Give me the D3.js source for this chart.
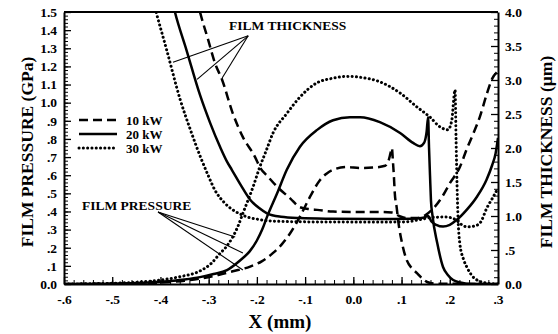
<!DOCTYPE html>
<html>
<head>
<meta charset="utf-8">
<script src="https://cdn.jsdelivr.net/npm/d3@7/dist/d3.min.js"></script>
<style>
  body { margin: 0; background: #fff; }
  text { font-family: "Liberation Serif", "Times New Roman", serif; font-weight: bold; fill: #000; }
</style>
</head>
<body>
<svg id="chart" width="558" height="334"></svg>
<script>
// ---- axis ticks and labels ----
const xTicks = [-0.6, -0.5, -0.4, -0.3, -0.2, -0.1, 0.0, 0.1, 0.2, 0.3];
const xTickLabels = ["-.6", "-.5", "-.4", "-.3", "-.2", "-.1", "0.0", ".1", ".2", ".3"];
const pTicks = [0, 0.1, 0.2, 0.3, 0.4, 0.5, 0.6, 0.7, 0.8, 0.9, 1.0, 1.1, 1.2, 1.3, 1.4, 1.5];
const pTickLabels = ["0.0", ".1", ".2", ".3", ".4", ".5", ".6", ".7", ".8", ".9", "1.0", "1.1", "1.2", "1.3", "1.4", "1.5"];
const hTicks = [0, 0.5, 1.0, 1.5, 2.0, 2.5, 3.0, 3.5, 4.0];
const hTickLabels = ["0.0", ".5", "1.0", "1.5", "2.0", "2.5", "3.0", "3.5", "4.0"];

const seriesNames = ["10 kW", "20 kW", "30 kW"];

// ---- film pressure (GPa) vs X (mm) ----
const pressure10 = [[-0.6,0],[-0.5,0.002],[-0.4,0.008],[-0.35,0.018],[-0.318,0.03],[-0.28,0.05],[-0.25,0.07],[-0.214,0.096],[-0.19,0.125],[-0.167,0.17],[-0.148,0.22],[-0.131,0.28],[-0.111,0.37],[-0.09,0.48],[-0.069,0.574],[-0.055,0.61],[-0.042,0.63],[-0.013,0.645],[0.014,0.64],[0.04,0.642],[0.066,0.652],[0.073,0.68],[0.077,0.72],[0.08,0.75],[0.082,0.68],[0.084,0.6],[0.086,0.5],[0.09,0.42],[0.093,0.35],[0.101,0.226],[0.111,0.13],[0.122,0.085],[0.132,0.06],[0.143,0.03],[0.153,0.011],[0.17,0.002],[0.3,0]];
const pressure20 = [[-0.6,0],[-0.5,0.002],[-0.45,0.005],[-0.4,0.012],[-0.35,0.025],[-0.318,0.038],[-0.29,0.055],[-0.262,0.077],[-0.235,0.13],[-0.215,0.18],[-0.2,0.24],[-0.189,0.3],[-0.179,0.37],[-0.158,0.5],[-0.138,0.63],[-0.111,0.756],[-0.075,0.85],[-0.042,0.903],[-0.007,0.92],[0.014,0.92],[0.055,0.893],[0.097,0.833],[0.124,0.778],[0.138,0.76],[0.147,0.78],[0.152,0.84],[0.155,0.92],[0.157,0.75],[0.159,0.6],[0.161,0.46],[0.164,0.38],[0.174,0.226],[0.186,0.094],[0.196,0.05],[0.207,0.022],[0.222,0.008],[0.236,0.002],[0.3,0]];
const pressure30 = [[-0.6,0],[-0.5,0.004],[-0.45,0.01],[-0.4,0.022],[-0.36,0.04],[-0.318,0.072],[-0.296,0.11],[-0.276,0.17],[-0.262,0.21],[-0.25,0.26],[-0.239,0.32],[-0.229,0.39],[-0.208,0.535],[-0.194,0.645],[-0.18,0.74],[-0.167,0.83],[-0.138,0.94],[-0.111,1.03],[-0.075,1.11],[-0.042,1.135],[-0.013,1.145],[0.014,1.14],[0.055,1.115],[0.097,1.053],[0.132,0.976],[0.159,0.92],[0.18,0.866],[0.196,0.85],[0.204,0.9],[0.211,1.07],[0.213,0.8],[0.215,0.55],[0.217,0.37],[0.221,0.22],[0.228,0.14],[0.236,0.09],[0.248,0.04],[0.262,0.015],[0.277,0.005],[0.3,0]];

// ---- film thickness (µm) vs X (mm) ----
const thickness10 = [[-0.325,4.2],[-0.318,4.0],[-0.301,3.59],[-0.287,3.25],[-0.272,3.0],[-0.25,2.51],[-0.229,2.16],[-0.204,1.87],[-0.194,1.72],[-0.176,1.57],[-0.158,1.43],[-0.131,1.26],[-0.111,1.13],[-0.09,1.1],[-0.075,1.09],[-0.042,1.065],[0.0,1.06],[0.06,1.06],[0.08,1.05],[0.095,1.0],[0.11,0.97],[0.13,0.97],[0.149,1.01],[0.163,1.09],[0.184,1.28],[0.2,1.48],[0.221,1.72],[0.235,1.98],[0.248,2.2],[0.262,2.45],[0.277,2.8],[0.288,3.02],[0.3,3.13]];
const thickness20 = [[-0.38,4.3],[-0.37,4.0],[-0.346,3.44],[-0.318,2.78],[-0.297,2.37],[-0.276,2.01],[-0.262,1.8],[-0.252,1.68],[-0.233,1.45],[-0.214,1.24],[-0.196,1.12],[-0.179,1.04],[-0.15,0.99],[-0.111,0.97],[-0.05,0.96],[0.05,0.955],[0.12,0.96],[0.145,0.975],[0.155,1.0],[0.162,0.92],[0.172,0.87],[0.186,0.845],[0.2,0.87],[0.214,0.94],[0.235,1.09],[0.256,1.28],[0.276,1.53],[0.288,1.75],[0.295,1.92],[0.3,2.15]];
const thickness30 = [[-0.42,4.3],[-0.409,4.0],[-0.387,3.44],[-0.359,2.71],[-0.337,2.25],[-0.316,1.85],[-0.3,1.58],[-0.287,1.38],[-0.268,1.2],[-0.25,1.09],[-0.235,1.03],[-0.22,0.985],[-0.2,0.955],[-0.183,0.935],[-0.15,0.92],[-0.111,0.915],[0.0,0.91],[0.08,0.91],[0.11,0.915],[0.14,0.95],[0.165,0.98],[0.19,0.985],[0.205,0.97],[0.215,0.93],[0.225,0.87],[0.236,0.84],[0.25,0.85],[0.263,0.9],[0.277,1.12],[0.29,1.28],[0.3,1.41]];

// ---- callout anchors (x in mm; pressure in GPa, thickness in µm) ----
const thicknessCallout = { label: "FILM THICKNESS", apex: [-0.218, 3.65], ends: [[-0.374, 3.26], [-0.324, 3.01], [-0.272, 3.03]] };
const pressureCallout = { label: "FILM PRESSURE", apex: [-0.405, 0.397], ends: [[-0.245, 0.259], [-0.229, 0.171], [-0.229, 0.077]] };

// ---- layout ----
const plot = { left: 64, right: 498, top: 12, bottom: 284 };

const svg = d3.select("#chart");
const x = d3.scaleLinear().domain([-0.6, 0.3]).range([plot.left, plot.right]);
const yP = d3.scaleLinear().domain([0, 1.5]).range([plot.bottom, plot.top]);
const yH = d3.scaleLinear().domain([0, 4.0]).range([plot.bottom, plot.top]);

const styles = {
  "10 kW": { dash: "9 5", width: 2.5, cap: "butt" },
  "20 kW": { dash: null, width: 2.5, cap: "butt" },
  "30 kW": { dash: "0.1 4.2", width: 3, cap: "round" }
};

svg.append("defs").append("clipPath").attr("id", "plotClip")
  .append("rect")
  .attr("x", plot.left).attr("y", plot.top)
  .attr("width", plot.right - plot.left).attr("height", plot.bottom - plot.top);

// ---- minor ticks ----
const range = (a, b, s) => d3.range(Math.round((b - a) / s) + 1).map(i => +(a + i * s).toFixed(4));
const minorGroups = [
  { axis: d3.axisBottom(x).tickValues(range(-0.6, 0.3, 0.02)), t: `translate(0,${plot.bottom})` },
  { axis: d3.axisLeft(yP).tickValues(range(0, 1.5, 0.02)), t: `translate(${plot.left},0)` },
  { axis: d3.axisRight(yH).tickValues(range(0, 4.0, 0.1)), t: `translate(${plot.right},0)` }
];
minorGroups.forEach(m => {
  const g = svg.append("g").attr("transform", m.t)
    .call(m.axis.tickSize(-4).tickSizeOuter(0).tickFormat(""));
  g.select(".domain").remove();
  g.selectAll("line").attr("stroke", "#000").attr("stroke-width", 1);
});

// ---- major axes ----
const gx = svg.append("g").attr("transform", `translate(0,${plot.bottom})`)
  .call(d3.axisBottom(x).tickValues(xTicks).tickSize(-7).tickSizeOuter(0).tickPadding(10)
    .tickFormat((d, i) => xTickLabels[i]));
const gl = svg.append("g").attr("transform", `translate(${plot.left},0)`)
  .call(d3.axisLeft(yP).tickValues(pTicks).tickSize(-7).tickSizeOuter(0).tickPadding(7)
    .tickFormat((d, i) => pTickLabels[i]));
const gr = svg.append("g").attr("transform", `translate(${plot.right},0)`)
  .call(d3.axisRight(yH).tickValues(hTicks).tickSize(-7).tickSizeOuter(0).tickPadding(7)
    .tickFormat((d, i) => hTickLabels[i]));
[gx, gl, gr].forEach(g => {
  g.selectAll(".domain").attr("stroke", "#000").attr("stroke-width", 2);
  g.selectAll("line").attr("stroke", "#000").attr("stroke-width", 1.3);
  g.selectAll("text").attr("font-size", 13.5).attr("font-family", null).attr("fill", "#000");
});

// top frame line
svg.append("line")
  .attr("x1", plot.left).attr("x2", plot.right)
  .attr("y1", plot.top).attr("y2", plot.top)
  .attr("stroke", "#000").attr("stroke-width", 2);

// ---- curves ----
const curves = svg.append("g").attr("clip-path", "url(#plotClip)");
const pLine = d3.line().x(d => x(d[0])).y(d => yP(d[1])).curve(d3.curveMonotoneX);
const hLine = d3.line().x(d => x(d[0])).y(d => yH(d[1])).curve(d3.curveMonotoneX);

const series = [
  { name: "10 kW", p: pressure10, h: thickness10 },
  { name: "20 kW", p: pressure20, h: thickness20 },
  { name: "30 kW", p: pressure30, h: thickness30 }
];
series.forEach(s => {
  const st = styles[s.name];
  [[s.p, pLine], [s.h, hLine]].forEach(([data, gen]) => {
    curves.append("path")
      .attr("d", gen(data))
      .attr("fill", "none")
      .attr("stroke", "#000")
      .attr("stroke-width", st.width)
      .attr("stroke-linecap", st.cap)
      .attr("stroke-dasharray", st.dash);
  });
});

// ---- callouts ----
function callout(c, yScale, textX, textY) {
  const g = svg.append("g");
  c.ends.forEach(e => {
    g.append("line")
      .attr("x1", x(c.apex[0])).attr("y1", yScale(c.apex[1]))
      .attr("x2", x(e[0])).attr("y2", yScale(e[1]))
      .attr("stroke", "#000").attr("stroke-width", 1.1);
  });
  g.append("text").attr("x", textX).attr("y", textY).attr("font-size", 13.5).text(c.label);
}
callout(thicknessCallout, yH, 229, 30);
callout(pressureCallout, yP, 82, 210);

// ---- legend ----
const legend = svg.append("g");
seriesNames.forEach((name, i) => {
  const st = styles[name];
  const yy = 120 + i * 14;
  legend.append("line")
    .attr("x1", 79).attr("x2", 117).attr("y1", yy).attr("y2", yy)
    .attr("stroke", "#000")
    .attr("stroke-width", st.width)
    .attr("stroke-linecap", st.cap)
    .attr("stroke-dasharray", st.dash);
  legend.append("text")
    .attr("x", 126).attr("y", yy).attr("dy", "0.35em")
    .attr("font-size", 13).text(name);
});

// ---- axis titles ----
svg.append("text")
  .attr("transform", `translate(33,${(plot.top + plot.bottom) / 2 + 4}) rotate(-90)`)
  .attr("text-anchor", "middle").attr("font-size", 17.5)
  .text("FILM PRESSURE (GPa)");
svg.append("text")
  .attr("transform", `translate(552,${(plot.top + plot.bottom) / 2 + 4}) rotate(-90)`)
  .attr("text-anchor", "middle").attr("font-size", 17.5)
  .text("FILM THICKNESS (\u00B5m)");
svg.append("text")
  .attr("x", (plot.left + plot.right) / 2 - 1).attr("y", 328)
  .attr("text-anchor", "middle").attr("font-size", 19)
  .text("X (mm)");
</script>
</body>
</html>
